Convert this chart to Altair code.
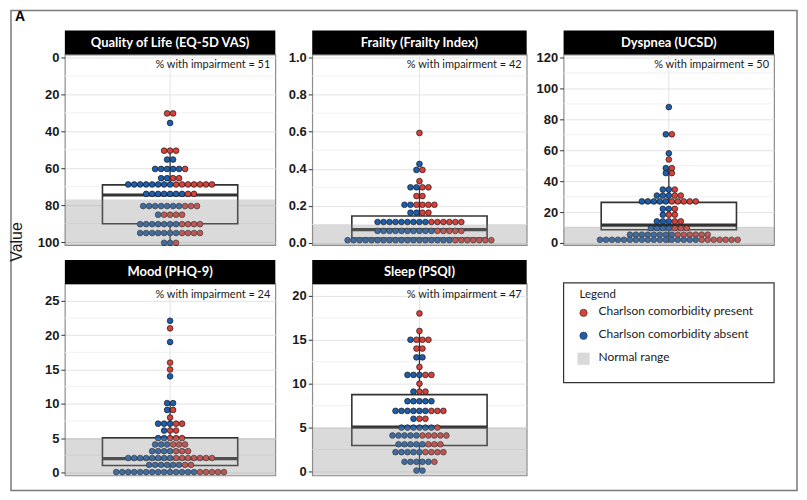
import altair as alt
import pandas as pd

RED = "#d8403a"
BLUE = "#1b5eae"
GROUPS = ["Charlson comorbidity present", "Charlson comorbidity absent"]
LEGEND_LABELS = ["Charlson comorbidity present", "Charlson comorbidity absent", "Normal range"]

titles = ["Quality of Life (EQ-5D VAS)", "Frailty (Frailty Index)", "Dyspnea (UCSD)",
          "Mood (PHQ-9)", "Sleep (PSQI)"]
impairment = [51, 42, 50, 24, 47]

# ---- dot rows: value of the row, number of blue (absent) dots, number of red (present) dots
qol_vals = [30.3, 35.5, 50.5, 55.3, 60.4, 65.4, 68.8, 73.9, 80.5, 85.2, 90.3, 95.1, 100.4]
qol_blue = [0, 1, 0, 2, 5, 2, 8, 7, 7, 1, 7, 7, 2]
qol_red = [2, 0, 3, 0, 1, 2, 7, 2, 3, 4, 4, 4, 1]

fra_vals = [0.593, 0.426, 0.394, 0.333, 0.300, 0.253, 0.206, 0.163, 0.113, 0.065, 0.015]
fra_blue = [0, 1, 1, 0, 2, 0, 2, 2, 9, 10, 18]
fra_red = [1, 0, 1, 1, 2, 2, 4, 2, 6, 5, 7]

dys_vals = [87.9, 70.3, 58.0, 54.0, 48.4, 45.2, 34.6, 30.7, 26.9, 22.1, 18.3, 14.0, 9.6, 5.4, 2.1]
dys_blue = [1, 1, 1, 0, 1, 1, 2, 3, 5, 2, 1, 3, 4, 8, 17]
dys_red = [0, 1, 0, 1, 1, 1, 1, 2, 5, 1, 2, 2, 3, 6, 7]

moo_vals = [22.1, 21.0, 19.0, 16.0, 15.0, 14.0, 10.1, 9.1, 8.0, 7.1, 6.1, 5.0, 4.07, 3.1, 2.1, 1.1, 0.05]
moo_blue = [1, 0, 1, 0, 0, 1, 2, 1, 0, 3, 1, 2, 3, 4, 8, 6, 14]
moo_red = [0, 1, 0, 1, 1, 0, 0, 1, 1, 2, 2, 3, 3, 3, 7, 2, 5]

sle_vals = [18.0, 16.0, 15.0, 14.0, 13.0, 11.9, 11.0, 10.0, 9.1, 8.0, 6.9, 6.0, 5.0, 4.1, 3.1, 2.2, 1.1, 0.1]
sle_blue = [0, 0, 1, 0, 2, 0, 3, 0, 1, 5, 6, 1, 6, 5, 5, 5, 5, 2]
sle_red = [1, 1, 3, 2, 0, 1, 2, 1, 2, 0, 3, 2, 1, 5, 3, 4, 1, 0]

vals = [qol_vals, fra_vals, dys_vals, moo_vals, sle_vals]
blues = [qol_blue, fra_blue, dys_blue, moo_blue, sle_blue]
reds = [qol_red, fra_red, dys_red, moo_red, sle_red]

# ---- box plot statistics
box_q1 = [69.0, 0.027, 8.6, 1.0, 2.95]
box_med = [74.5, 0.072, 11.6, 2.0, 5.05]
box_q3 = [90.1, 0.145, 26.3, 5.04, 8.75]
whisk_lo = [50.5, 0.0, 0.0, 0.0, 0.1]
whisk_hi = [100.4, 0.30, 48.4, 10.1, 16.0]

# ---- normal range limits
normal_limit = [77, 0.1, 10.5, 5, 5]
normal_above = [True, False, False, False, False]

# ---- axes
y_domains = [[-1.6, 101.6], [-0.011, 1.016], [-1.3, 121.9], [-0.44, 27.47], [-0.45, 21.36]]
y_reverse = [True, False, False, False, False]
major_ticks = [[0, 20, 40, 60, 80, 100], [0, 0.2, 0.4, 0.6, 0.8, 1.0], [0, 20, 40, 60, 80, 100, 120],
               [0, 5, 10, 15, 20, 25], [0, 5, 10, 15, 20]]
minor_ticks = [[10, 30, 50, 70, 90], [0.1, 0.3, 0.5, 0.7, 0.9], [10, 30, 50, 70, 90, 110],
               [2.5, 7.5, 12.5, 17.5, 22.5], [2.5, 7.5, 12.5, 17.5]]
tick_formats = ["d", ".1f", "d", "d", "d"]

widths = [211, 215, 211, 211, 215]
heights = [191, 191, 191, 192, 192]
DOT_PX = 6.0
BOX_HALF = 11.3


def panel(k, extra=None):
    W, H = widths[k], heights[k]
    hx = W / (2 * DOT_PX)
    xs = alt.Scale(domain=[-hx, hx], nice=False, zero=False)
    ys = alt.Scale(domain=y_domains[k], reverse=y_reverse[k], nice=False, zero=False)

    rows = []
    for v, b, r in zip(vals[k], blues[k], reds[k]):
        n = b + r
        for i in range(n):
            rows.append({"x": i - (n - 1) / 2, "y": v, "g": GROUPS[1] if i < b else GROUPS[0]})
    dots_df = pd.DataFrame(rows)

    axis = alt.Axis(values=major_ticks[k], format=tick_formats[k], title=None, domain=False,
                    grid=True, gridColor="#e3e3e3", gridWidth=1, ticks=True, tickSize=4,
                    tickColor="#333333", labelFont="Liberation Sans", labelFontWeight="bold",
                    labelFontSize=13, labelColor="#1a1a1a", labelPadding=2)

    def Y(field):
        return alt.Y(field, scale=ys, axis=axis, title=None)

    def X(field):
        return alt.X(field, scale=xs, axis=None)

    minor = alt.Chart(pd.DataFrame({"v": minor_ticks[k]})).mark_rule(
        color="#f0f0f0", strokeWidth=1).encode(y=Y("v:Q"))

    vline = alt.Chart(pd.DataFrame({"x": [0]})).mark_rule(color="#e3e3e3", strokeWidth=1).encode(
        x=X("x:Q"))

    wdf = pd.DataFrame({"x": [0, 0], "a": [box_q3[k], box_q1[k]], "b": [whisk_hi[k], whisk_lo[k]]})
    whisk = alt.Chart(wdf).mark_rule(color="#333333", strokeWidth=1.3).encode(
        x=X("x:Q"), y=Y("a:Q"), y2="b:Q")

    bdf = pd.DataFrame({"x1": [-BOX_HALF], "x2": [BOX_HALF], "q1": [box_q1[k]], "q3": [box_q3[k]],
                        "m": [box_med[k]]})
    box = alt.Chart(bdf).mark_rect(fill="white", stroke="#333333", strokeWidth=1.6).encode(
        x=X("x1:Q"), x2="x2:Q", y=Y("q1:Q"), y2="q3:Q")
    med = alt.Chart(bdf).mark_rule(color="#333333", strokeWidth=3.2).encode(
        x=X("x1:Q"), x2="x2:Q", y=Y("m:Q"))

    dots = alt.Chart(dots_df).mark_circle(size=33, opacity=1, stroke="#1a1a1a", strokeWidth=0.7).encode(
        x=X("x:Q"), y=Y("y:Q"),
        color=alt.Color("g:N", scale=alt.Scale(domain=GROUPS, range=[RED, BLUE]), legend=None))

    lo, hi = y_domains[k]
    band_end = hi if normal_above[k] else lo
    band = alt.Chart(pd.DataFrame({"x1": [-hx], "x2": [hx], "a": [normal_limit[k]], "b": [band_end]})).mark_rect(
        color="#8c8c8c", opacity=0.32).encode(
        x=X("x1:Q"), x2="x2:Q", y=Y("a:Q"), y2="b:Q")

    note = alt.Chart(pd.DataFrame({"t": [f"% with impairment = {impairment[k]}"]})).mark_text(
        align="right", baseline="middle", font="Lato", fontSize=11, color="#1a1a1a").encode(
        x=alt.value(W - 5), y=alt.value(11), text="t:N")

    strip = alt.Chart(pd.DataFrame({"t": [titles[k]]})).mark_rect(color="black").encode(
        x=alt.value(0), x2=alt.value(W), y=alt.value(-24), y2=alt.value(0))
    strip_t = alt.Chart(pd.DataFrame({"t": [titles[k]]})).mark_text(
        align="center", baseline="middle", font="Lato", fontWeight="bold", fontSize=13,
        color="white").encode(x=alt.value(W / 2), y=alt.value(-12), text="t:N")

    layers = [minor, vline, whisk, box, med, dots, band, note, strip, strip_t]
    if extra:
        layers = layers + extra
    return alt.layer(*layers).properties(width=W, height=H)


one = pd.DataFrame({"t": [""]})
frame = alt.Chart(one).mark_rect(fillOpacity=0, stroke="#7a7a7a", strokeWidth=1.5).encode(
    x=alt.value(-54), x2=alt.value(734), y=alt.value(-44), y2=alt.value(437))
letter = alt.Chart(pd.DataFrame({"t": ["A"]})).mark_text(
    align="left", baseline="middle", font="Liberation Sans", fontWeight="bold", fontSize=14,
    color="black").encode(x=alt.value(-50), y=alt.value(-38), text="t:N")
ytitle = alt.Chart(pd.DataFrame({"t": ["Value"]})).mark_text(
    align="center", baseline="middle", font="Liberation Sans", fontSize=16, angle=270,
    color="#1a1a1a").encode(x=alt.value(-48), y=alt.value(188), text="t:N")

p1 = panel(0, [frame, letter, ytitle])
p2 = panel(1)
p3 = panel(2)
p4 = panel(3)
p5 = panel(4)

# ---- legend cell
leg_box = alt.Chart(one).mark_rect(fill="white", stroke="#333333", strokeWidth=1.2).encode(
    x=alt.value(0), x2=alt.value(211), y=alt.value(-1), y2=alt.value(99))
leg_title = alt.Chart(pd.DataFrame({"t": ["Legend"]})).mark_text(
    align="left", baseline="middle", font="Lato", fontSize=11.5, color="#1a1a1a").encode(
    x=alt.value(16), y=alt.value(11), text="t:N")
items = pd.DataFrame({"label": LEGEND_LABELS, "idx": [0, 1, 2]})
ly = alt.Scale(domain=[0, 2], range=[29, 75])
leg_dots = alt.Chart(items.iloc[:2]).mark_circle(size=55, opacity=1, stroke="#333333", strokeWidth=0.6).encode(
    x=alt.value(20), y=alt.Y("idx:Q", scale=ly, axis=None),
    color=alt.Color("label:N", scale=alt.Scale(domain=GROUPS, range=[RED, BLUE]), legend=None))
leg_sq = alt.Chart(items.iloc[2:]).mark_square(size=150, opacity=1, color="#d9d9d9").encode(
    x=alt.value(20), y=alt.Y("idx:Q", scale=ly, axis=None))
leg_text = alt.Chart(items).mark_text(
    align="left", baseline="middle", font="Lato", fontSize=12, color="#1a1a1a", dy=-2).encode(
    x=alt.value(35), y=alt.Y("idx:Q", scale=ly, axis=None), text="label:N")
leg = alt.layer(leg_box, leg_title, leg_dots, leg_sq, leg_text).properties(
    width=211, height=192, view=alt.ViewBackground(stroke="transparent"))

chart = alt.concat(p1, p2, p3, p4, p5, leg, columns=3, spacing={"row": 39, "column": 37},
                   bounds="flush", align="each").resolve_scale(
    x="independent", y="independent").properties(padding=0, background="white").configure_view(
    stroke="#8c8c8c", strokeWidth=1.2)

chart.save("out.html", embed_options={"renderer": "svg", "actions": False})
